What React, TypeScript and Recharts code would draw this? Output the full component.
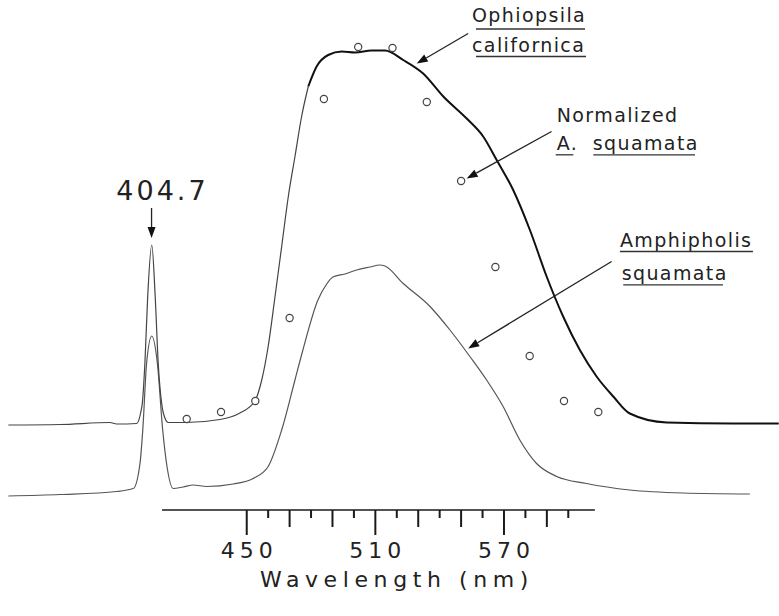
import React from 'react';
import { ComposedChart, Line, Scatter, XAxis, YAxis, ReferenceLine, ReferenceDot } from 'recharts';

// Ophiopsila californica trace (upper), wavelength in nm / relative emission
const ophiopsilaNm = [338.8, 362.9, 386.2, 389.3, 398.7, 400.5, 401.3, 402.5, 403.8, 405.7, 407.3, 408.7, 410.3, 411.1, 413.4, 421.7, 437.5, 446.8, 453.8, 457.0, 460.0, 463.2, 466.3, 469.4, 472.5, 475.6, 478.7, 482.6, 488.0, 494.3, 500.5, 508.3, 514.5, 523.0, 532.3, 541.7, 552.6, 560.3, 566.6, 574.3, 582.1, 589.9, 597.6, 605.4, 613.2, 621.0, 628.7, 645.9, 676.8, 698.2];
const ophiopsilaVal = [17.0, 17.1, 17.5, 17.2, 17.3, 19.4, 21.4, 29.4, 42.7, 53.0, 42.7, 29.4, 21.4, 19.4, 17.5, 17.5, 18.1, 19.4, 21.8, 26.0, 32.7, 42.7, 52.7, 62.7, 70.7, 78.7, 84.7, 88.7, 91.0, 91.7, 91.5, 91.9, 91.9, 90.0, 87.3, 82.7, 78.3, 74.7, 70.0, 64.0, 56.0, 46.7, 38.7, 32.0, 26.7, 22.7, 19.3, 17.5, 17.3, 17.3];
const ophiopsilaSplitNm = 478.7; // trace drawn heavier from here on

// Amphipholis squamata trace (lower)
const amphipholisNm = [338.8, 362.9, 389.3, 397.1, 400.2, 401.5, 403.3, 405.7, 408.3, 410.8, 412.6, 415.7, 420.3, 425.0, 431.3, 443.7, 453.0, 460.0, 466.3, 472.5, 476.2, 483.2, 487.0, 490.2, 495.8, 501.3, 507.5, 512.1, 514.5, 523.0, 535.5, 544.8, 554.1, 561.9, 569.6, 577.4, 585.2, 594.6, 608.5, 628.7, 653.5, 684.7];
const amphipholisVal = [2.8, 3.1, 3.7, 4.3, 9.3, 16.0, 29.4, 34.8, 29.4, 16.0, 9.3, 4.3, 4.6, 5.0, 4.7, 5.2, 6.3, 8.7, 16.0, 26.0, 32.0, 42.0, 45.0, 46.6, 47.2, 48.0, 48.6, 49.0, 48.8, 45.3, 40.7, 36.0, 30.7, 26.0, 20.7, 14.0, 9.3, 6.7, 5.3, 4.0, 3.4, 3.2];

// Normalized A. squamata (open circles)
const normalizedNm = [422, 438, 454, 470, 486, 502, 518, 534, 550, 566, 582, 598, 614];
const normalizedVal = [18.2, 19.6, 21.8, 38.4, 82.2, 92.6, 92.4, 81.6, 65.8, 48.6, 30.8, 21.8, 19.6];

const xTicks = [450, 460, 470, 480, 490, 500, 510, 520, 530, 540, 550, 560, 570, 580, 590, 600];
const labeledTicks = [450, 510, 570];
const midTicks = [470, 490, 530, 550, 590];
const axisSpan = [410.5, 612.4];

const ophData = ophiopsilaNm.map((nm, i) => ({ nm, v: ophiopsilaVal[i] }));
const ophLeft = ophData.filter((d) => d.nm <= ophiopsilaSplitNm);
const ophRight = ophData.filter((d) => d.nm >= ophiopsilaSplitNm);
const amphData = amphipholisNm.map((nm, i) => ({ nm, v: amphipholisVal[i] }));
const normData = normalizedNm.map((nm, i) => ({ nm, v: normalizedVal[i] }));

const FONT = '"DejaVu Sans", sans-serif';
const INK = '#222';

const AxisTick = (props: any) => {
  const { x, y, payload } = props;
  const v = payload.value;
  const big = labeledTicks.includes(v);
  const len = big ? 25 : midTicks.includes(v) ? 17 : 8;
  return (
    <g>
      <line x1={x} y1={y} x2={x} y2={y + len} stroke="#1a1a1a" strokeWidth={2} />
      {big && (
        <text x={x} y={y + 48} dx={2.5} textAnchor="middle" fontFamily={FONT}
          fontSize={22} letterSpacing={5} fill={INK}>{v}</text>
      )}
    </g>
  );
};

const Arrow = (props: any) => {
  const { x1, y1, x2, y2 } = props;
  const a = Math.atan2(y2 - y1, x2 - x1);
  const L = 11;
  const W = 4;
  const bx = x2 - L * Math.cos(a);
  const by = y2 - L * Math.sin(a);
  const px = -Math.sin(a) * W;
  const py = Math.cos(a) * W;
  return (
    <g>
      <line x1={x1} y1={y1} x2={bx} y2={by} stroke="#222" strokeWidth={1.3} />
      <polygon points={`${x2},${y2} ${bx + px},${by + py} ${bx - px},${by - py}`} fill="#111" />
    </g>
  );
};

type Piece = { t: string; dx: number; dy: number; ul?: [number, number, number] };

const textBlock = (pieces: Piece[], size = 19, spacing = 1.4) => (p: any) => (
  <g>
    {pieces.map((pc, i) => (
      <g key={i}>
        <text x={p.cx + pc.dx} y={p.cy + pc.dy} fontFamily={FONT} fontSize={size}
          letterSpacing={spacing} fill={INK}>{pc.t}</text>
        {pc.ul && (
          <line x1={p.cx + pc.ul[0]} x2={p.cx + pc.ul[1]} y1={p.cy + pc.ul[2]} y2={p.cy + pc.ul[2]}
            stroke="#333" strokeWidth={1.3} />
        )}
      </g>
    ))}
  </g>
);

const App: React.FC = () => {
  return (
    <div style={{ position: 'absolute', left: 0, top: 0, background: '#fff' }}>
      <ComposedChart width={779} height={616} margin={{ top: 0, right: 0, bottom: 0, left: 0 }}>
        <XAxis
          dataKey="nm"
          type="number"
          domain={[334.9, 698.3]}
          allowDataOverflow
          ticks={xTicks}
          interval={0}
          height={106}
          axisLine={false}
          tickLine={false}
          tickSize={0}
          tickMargin={0}
          tick={<AxisTick />}
          label={(lp: any) => {
            const vb = lp.viewBox;
            return (
              <text x={vb.x + 397} y={vb.y + 77} textAnchor="middle" fontFamily={FONT}
                fontSize={22} letterSpacing={5.6} fill={INK}>Wavelength (nm)</text>
            );
          }}
        />
        <YAxis type="number" domain={[0, 102]} allowDataOverflow hide width={0} />
        <ReferenceLine
          segment={[{ x: axisSpan[0], y: 0 }, { x: axisSpan[1], y: 0 }]}
          stroke="#1a1a1a"
          strokeWidth={1.6}
        />
        <Line data={amphData} dataKey="v" type="monotone" stroke="#555" strokeWidth={1.2} dot={false}
          activeDot={false} isAnimationActive={false} />
        <Line data={ophLeft} dataKey="v" type="monotone" stroke="#444" strokeWidth={1.2} dot={false}
          activeDot={false} isAnimationActive={false} />
        <Line data={ophRight} dataKey="v" type="monotone" stroke="#111" strokeWidth={2} dot={false}
          activeDot={false} isAnimationActive={false} />
        <Scatter data={normData} dataKey="v" isAnimationActive={false}
          shape={(p: any) => <circle cx={p.cx} cy={p.cy} r={3.6} fill="#fff" stroke="#444" strokeWidth={1.2} />} />

        {/* arrows */}
        <ReferenceLine segment={[{ x: 405.6, y: 60.4 }, { x: 405.6, y: 54.4 }]} shape={Arrow} />
        <ReferenceLine segment={[{ x: 553.3, y: 95.3 }, { x: 529.3, y: 89.3 }]} shape={Arrow} />
        <ReferenceLine segment={[{ x: 592.2, y: 75.7 }, { x: 552.6, y: 66.3 }]} shape={Arrow} />
        <ReferenceLine segment={[{ x: 620.2, y: 49.7 }, { x: 553.3, y: 32.3 }]} shape={Arrow} />

        {/* labels */}
        <ReferenceDot x={410.0} y={62} r={0}
          shape={(p: any) => (
            <text x={p.cx} y={p.cy} dx={1.5} textAnchor="middle" fontFamily={FONT}
              fontSize={27} letterSpacing={3} fill={INK}>404.7</text>
          )} />
        <ReferenceDot x={555.1} y={97.7} r={0}
          shape={textBlock([
            { t: 'Ophiopsila', dx: 0, dy: 0, ul: [4, 113, 7.5] },
            { t: 'californica', dx: 0, dy: 30, ul: [4, 114, 35] },
          ])} />
        <ReferenceDot x={594.6} y={77.7} r={0}
          shape={textBlock([
            { t: 'Normalized', dx: 0, dy: 0 },
            { t: 'A.', dx: 0, dy: 28.3, ul: [-1, 16.6, 33.3] },
            { t: 'squamata', dx: 36, dy: 28.3, ul: [36.6, 138.3, 33.3] },
          ])} />
        <ReferenceDot x={624.1} y={52.7} r={0}
          shape={textBlock([
            { t: 'Amphipholis', dx: 0, dy: 0, ul: [0, 133, 5] },
            { t: 'squamata', dx: 1.7, dy: 33.3, ul: [3.3, 103, 38.3] },
          ])} />
      </ComposedChart>
    </div>
  );
};

export default App;
